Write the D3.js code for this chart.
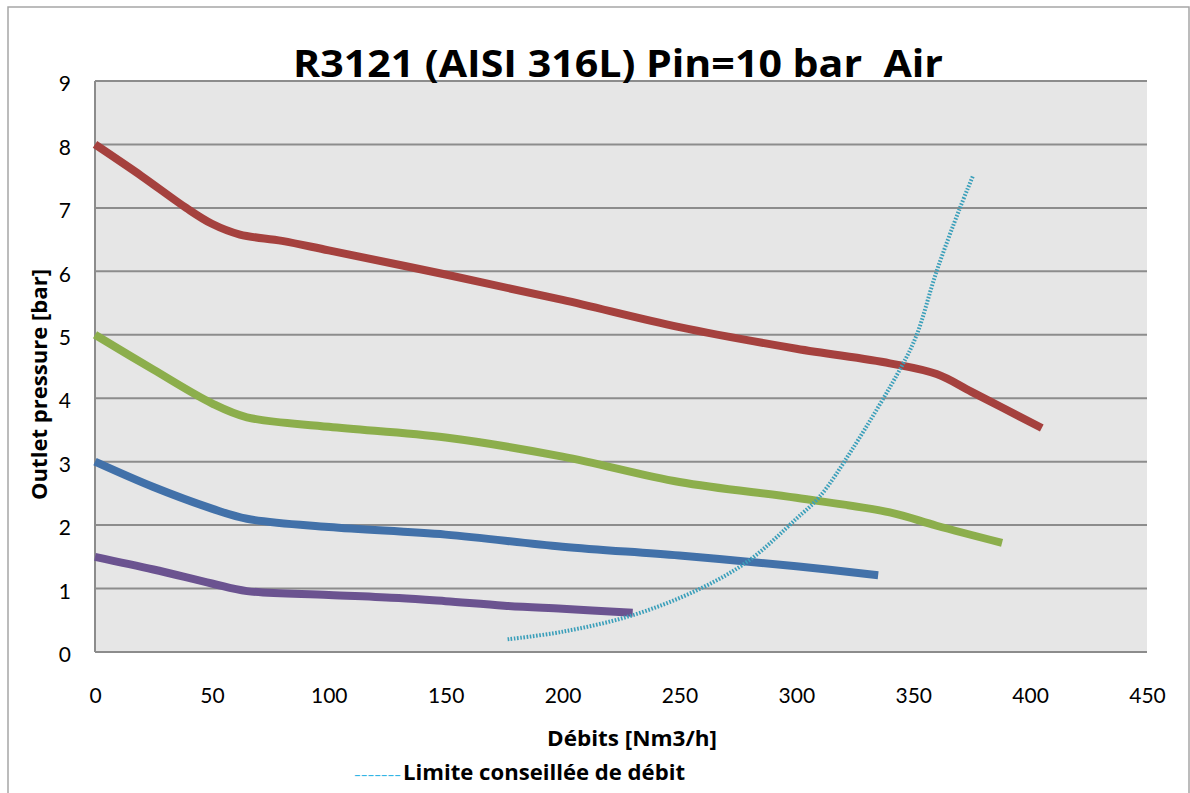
<!DOCTYPE html>
<html>
<head>
<meta charset="utf-8">
<script src="https://cdn.jsdelivr.net/npm/d3@7"></script>
<style>
  body { margin: 0; background: #fff; }
  text { font-family: "Open Sans", Lato, sans-serif; }
</style>
</head>
<body>
<svg id="chart" width="1190" height="793"></svg>
<script>
// data: [débit Nm3/h, pression bar]
const redSeries    = [[0,8],[20,7.5],[39,7.0],[50,6.75],[62,6.58],[80,6.48],[100,6.33],[150,5.95],[200,5.55],[250,5.12],[300,4.78],[340,4.55],[360,4.38],[375,4.1],[405,3.53]];
const greenSeries  = [[0,5],[25,4.45],[50,3.92],[65,3.7],[100,3.55],[150,3.38],[200,3.08],[250,2.68],[300,2.43],[340,2.2],[360,1.99],[388,1.72]];
const blueSeries   = [[0,3],[25,2.6],[50,2.26],[65,2.1],[100,1.97],[150,1.85],[200,1.66],[250,1.52],[300,1.35],[335,1.21]];
const purpleSeries = [[0,1.5],[25,1.3],[50,1.08],[65,0.96],[100,0.9],[130,0.85],[150,0.8],[175,0.73],[200,0.68],[230,0.62]];
const limitSeries  = [[176.5,0.2],[200,0.32],[230,0.58],[259,1.0],[280,1.45],[300,2.1],[310,2.45],[324,3.2],[345,4.5],[351.5,5.0],[360,6.0],[370,7.0],[375.5,7.5]];

const xTicks = [0,50,100,150,200,250,300,350,400,450];
const yTicks = [0,1,2,3,4,5,6,7,8,9];

const titleText  = 'R3121 (AISI 316L) Pin=10 bar  Air';
const xLabel     = 'Débits [Nm3/h]';
const yLabel     = 'Outlet pressure [bar]';
const legendText = 'Limite conseillée de débit';

const svg = d3.select('#chart');

// cadre extérieur
svg.append('rect')
    .attr('x', 8).attr('y', 7)
    .attr('width', 1181).attr('height', 800)
    .attr('fill', '#fff').attr('stroke', '#a6a6a6').attr('stroke-width', 1.5);

const plot = {left: 95, right: 1147, top: 81, bottom: 652};

let x = d3.scaleLinear().domain([0, 450]).range([plot.left, plot.right]);
let y = d3.scaleLinear().domain([0, 9]).range([plot.bottom, plot.top]);

// fond gris
svg.append('rect')
    .attr('x', plot.left).attr('y', plot.top)
    .attr('width', plot.right - plot.left).attr('height', plot.bottom - plot.top)
    .attr('fill', '#e6e6e6');

// grille horizontale
svg.append('g').selectAll('line')
    .data(yTicks)
    .join('line')
    .attr('x1', plot.left).attr('x2', plot.right)
    .attr('y1', d => y(d)).attr('y2', d => y(d))
    .attr('stroke', '#8c8c8c').attr('stroke-width', 2);

// axe vertical
svg.append('line')
    .attr('x1', plot.left).attr('x2', plot.left)
    .attr('y1', plot.top).attr('y2', plot.bottom)
    .attr('stroke', '#8c8c8c').attr('stroke-width', 2);

// tick labels
let yAxis = svg.append('g')
    .attr('transform', `translate(${plot.left - 24},3)`)
    .call(d3.axisLeft(y).tickValues(yTicks).tickSize(0).tickPadding(0));
yAxis.select('.domain').remove();
yAxis.selectAll('text')
    .attr('font-size', 21).attr('fill', '#000')
    .style('font-family', 'Lato, sans-serif');

let xAxis = svg.append('g')
    .attr('transform', `translate(0,${plot.bottom + 36})`)
    .call(d3.axisBottom(x).tickValues(xTicks).tickSize(0).tickPadding(0));
xAxis.select('.domain').remove();
xAxis.selectAll('text')
    .attr('font-size', 21).attr('fill', '#000')
    .style('font-family', 'Lato, sans-serif');

// courbes
let line = d3.line()
    .x(d => x(d[0]))
    .y(d => y(d[1]))
    .curve(d3.curveCatmullRom.alpha(0.5));

const series = [
    {data: redSeries,    color: '#a5413e'},
    {data: greenSeries,  color: '#8cae4c'},
    {data: blueSeries,   color: '#4271a9'},
    {data: purpleSeries, color: '#6b5390'}
];

series.forEach(function (s) {
    svg.append('path')
        .datum(s.data)
        .attr('d', line)
        .attr('fill', 'none')
        .attr('stroke', s.color)
        .attr('stroke-width', 8);
});

// limite conseillée, pointillé
svg.append('path')
    .datum(limitSeries)
    .attr('d', line)
    .attr('fill', 'none')
    .attr('stroke', '#3a9fba')
    .attr('stroke-width', 4)
    .attr('stroke-dasharray', '1.6,1.6');

// titres
svg.append('text')
    .attr('x', 293).attr('y', 77)
    .attr('font-size', 37).attr('font-weight', 'bold')
    .attr('textLength', 650).attr('lengthAdjust', 'spacingAndGlyphs')
    .style('white-space', 'pre')
    .text(titleText);

svg.append('text')
    .attr('x', 547).attr('y', 746)
    .attr('font-size', 21).attr('font-weight', 'bold')
    .attr('textLength', 170).attr('lengthAdjust', 'spacingAndGlyphs')
    .text(xLabel);

svg.append('text')
    .attr('transform', 'translate(47,500) rotate(-90)')
    .attr('font-size', 21).attr('font-weight', 'bold')
    .attr('textLength', 231).attr('lengthAdjust', 'spacingAndGlyphs')
    .text(yLabel);

// légende
svg.append('text')
    .attr('x', 354).attr('y', 780)
    .attr('fill', '#33b5e5').attr('font-size', 14)
    .attr('textLength', 47).attr('lengthAdjust', 'spacingAndGlyphs')
    .text('-------');
svg.append('text')
    .attr('x', 403).attr('y', 780)
    .attr('fill', '#000').attr('font-size', 21).attr('font-weight', 'bold')
    .attr('textLength', 282).attr('lengthAdjust', 'spacingAndGlyphs')
    .text(legendText);
</script>
</body>
</html>
